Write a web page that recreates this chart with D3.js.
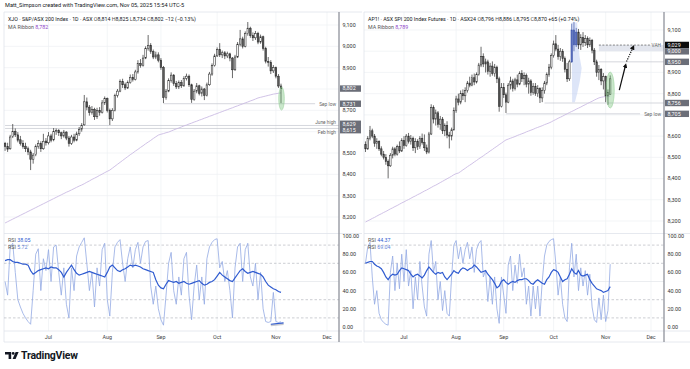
<!DOCTYPE html>
<html>
<head>
<meta charset="utf-8">
<script src="https://cdn.jsdelivr.net/npm/d3@7"></script>
<style>
  body { margin: 0; background: #fff; }
  svg { display: block; font-family: Roboto, "Noto Sans", sans-serif; }
</style>
</head>
<body>
<div id="chart"></div>
<script>
// ---- data -------------------------------------------------------------
// trading days Jun 6 2025 .. Dec 31 2025 (weekdays), candles cover the first 109
const tradingDays = d3.timeDay.range(new Date(2025, 5, 6), new Date(2026, 0, 1))
  .filter(d => d.getDay() % 6 !== 0);
const monthLabels = ['Jul', 'Aug', 'Sep', 'Oct', 'Nov', 'Dec'];
const priceTicks = d3.range(8200, 9101, 100);
const rsiTicks = [0, 20, 40, 60, 80, 100];
const rsiDashed = [90, 70, 30, 10];

// XJO daily [open, high, low, close]
const xjoOHLC = [
  [8545,8552,8510,8530],[8530,8548,8505,8518],[8520,8585,8515,8575],[8578,8636,8570,8600],[8602,8615,8575,8585],
  [8585,8598,8550,8560],[8562,8580,8535,8545],[8545,8560,8520,8530],[8532,8548,8505,8520],[8520,8530,8490,8505],
  [8505,8515,8420,8470],[8470,8500,8450,8490],[8492,8540,8485,8530],[8530,8560,8520,8545],[8545,8555,8505,8520],
  [8520,8590,8515,8555],[8556,8570,8535,8548],[8548,8598,8540,8580],[8580,8590,8550,8560],[8562,8617,8555,8600],
  [8600,8615,8585,8605],[8605,8612,8580,8595],[8595,8600,8565,8580],[8580,8608,8572,8598],[8598,8602,8560,8570],
  [8570,8580,8530,8545],[8545,8585,8538,8575],[8575,8590,8550,8560],[8560,8600,8555,8590],[8590,8622,8580,8610],
  [8612,8640,8600,8630],[8632,8772,8628,8740],[8740,8760,8700,8715],[8715,8725,8675,8690],[8690,8720,8680,8705],
  [8705,8712,8655,8670],[8670,8712,8660,8700],[8700,8715,8675,8690],[8690,8748,8685,8735],[8735,8765,8725,8755],
  [8755,8760,8690,8700],[8700,8708,8631,8660],[8660,8710,8650,8700],[8700,8778,8695,8770],[8770,8800,8760,8790],
  [8790,8845,8785,8835],[8835,8848,8805,8820],[8820,8830,8795,8805],[8805,8840,8800,8830],[8830,8868,8825,8855],
  [8855,8870,8835,8845],[8845,8890,8840,8880],[8880,8935,8872,8920],[8920,8940,8900,8910],[8910,8960,8905,8945],
  [8945,9000,8940,8990],[8990,9053,8980,9005],[9005,9015,8965,8975],[8975,8985,8940,8950],[8950,8975,8940,8960],
  [8960,8972,8925,8935],[8935,8945,8890,8900],[8900,8908,8734,8760],[8760,8800,8750,8790],[8790,8850,8785,8840],
  [8840,8878,8830,8865],[8865,8870,8815,8825],[8825,8838,8800,8810],[8810,8840,8800,8830],[8830,8842,8805,8815],
  [8815,8860,8810,8850],[8850,8872,8840,8860],[8860,8868,8810,8820],[8820,8825,8735,8750],[8750,8800,8745,8790],
  [8790,8828,8780,8815],[8815,8820,8770,8780],[8780,8812,8765,8800],[8800,8805,8748,8770],[8770,8830,8765,8820],
  [8820,8880,8815,8870],[8870,8920,8862,8910],[8910,8965,8905,8955],[8955,8995,8950,8985],[8985,9015,8950,8960],
  [8960,8980,8945,8970],[8970,8978,8940,8955],[8955,8975,8945,8965],[8965,8970,8930,8945],[8945,8950,8851,8890],
  [8890,8960,8885,8950],[8950,9020,8945,9010],[9010,9077,9000,9035],[9035,9045,8990,9000],[9000,9070,8995,9060],
  [9060,9114,9050,9085],[9085,9092,9040,9050],[9050,9065,9025,9040],[9040,9072,9030,9060],[9060,9068,9010,9020],
  [9020,9055,9012,9045],[9045,9050,8980,8990],[8990,8998,8920,8930],[8930,8950,8905,8925],[8925,8935,8870,8885],
  [8885,8912,8875,8900],[8900,8905,8850,8860],[8860,8870,8805,8814],[8814,8825,8734,8802]
];

// AP1! daily [open, high, low, close]
const ap1OHLC = [
  [8560,8575,8525,8540],[8540,8600,8535,8590],[8590,8648,8580,8625],[8625,8635,8590,8600],[8600,8610,8550,8565],
  [8565,8590,8540,8575],[8575,8580,8530,8540],[8540,8552,8505,8515],[8515,8530,8490,8500],[8500,8515,8465,8480],
  [8480,8490,8401,8460],[8460,8520,8455,8510],[8510,8550,8495,8540],[8540,8548,8505,8515],[8515,8560,8508,8550],
  [8550,8575,8520,8530],[8530,8590,8525,8580],[8580,8600,8540,8555],[8555,8610,8550,8600],[8600,8615,8565,8575],
  [8575,8605,8560,8590],[8590,8598,8530,8545],[8545,8590,8520,8575],[8575,8585,8535,8550],[8550,8600,8540,8590],
  [8590,8612,8560,8570],[8570,8608,8530,8545],[8545,8560,8515,8525],[8525,8620,8518,8610],[8610,8750,8605,8735],
  [8735,8745,8660,8680],[8680,8725,8650,8710],[8710,8718,8640,8655],[8655,8695,8630,8680],[8680,8690,8610,8625],
  [8625,8660,8600,8650],[8650,8670,8590,8605],[8605,8620,8542,8600],[8600,8640,8580,8630],[8630,8735,8625,8720],
  [8720,8790,8710,8775],[8775,8800,8745,8760],[8760,8815,8750,8800],[8800,8820,8770,8790],[8790,8830,8760,8815],
  [8815,8860,8805,8850],[8850,8880,8830,8840],[8840,8890,8835,8875],[8875,8895,8840,8855],[8855,8900,8848,8890],
  [8890,8945,8885,8935],[8935,9021,8925,8975],[8975,8990,8925,8940],[8940,8965,8900,8950],[8950,8960,8890,8905],
  [8905,8945,8880,8930],[8930,8952,8885,8895],[8895,8940,8880,8925],[8925,8932,8850,8870],[8870,8880,8715,8740],
  [8740,8850,8735,8830],[8830,8850,8780,8795],[8795,8805,8709,8760],[8760,8850,8755,8840],[8840,8880,8820,8860],
  [8860,8870,8810,8825],[8825,8875,8815,8865],[8865,8890,8830,8845],[8845,8905,8840,8895],[8895,8911,8855,8870],
  [8870,8900,8840,8885],[8885,8895,8830,8845],[8845,8875,8800,8860],[8860,8868,8790,8805],[8805,8850,8795,8835],
  [8835,8850,8790,8800],[8800,8840,8785,8825],[8825,8830,8756,8780],[8780,8830,8760,8815],[8815,8860,8800,8850],
  [8850,8900,8840,8890],[8890,8940,8880,8925],[8925,8990,8915,8980],[8980,9050,8970,9035],[9035,9076,9000,9010],
  [9010,9030,8960,8975],[8975,9015,8955,9000],[9000,9010,8950,8965],[8965,8975,8900,8915],[8915,8945,8855,8870],
  [8870,8960,8860,8950],[8950,9130,8945,9100],[9100,9138,9000,9030],[9030,9110,9020,9090],[9090,9105,9010,9030],
  [9030,9080,9006,9065],[9065,9090,9020,9040],[9040,9076,9025,9060],[9060,9070,9015,9030],[9030,9065,9020,9050],
  [9050,9058,8990,9005],[9005,9015,8935,8950],[8950,8960,8880,8900],[8900,8935,8864,8915],[8915,8920,8840,8860],
  [8860,8897,8820,8880],[8880,8885,8760,8790],[8790,8820,8747,8805],[8796,8886,8795,8870]
];

const xjoMA = [
  8172,8178,8184,8190,8196,8202,8208,8214,8220,8226,8232,8238,8244,8250,8256,8262,8268,8274,8280,8286,
  8292,8298,8304,8310,8316,8321,8327,8333,8339,8345,8350,8356,8363,8369,8376,8382,8388,8395,8401,8408,
  8414,8420,8429,8438,8447,8456,8465,8474,8483,8492,8500,8509,8517,8526,8534,8543,8551,8559,8568,8576,
  8584,8588,8591,8595,8598,8603,8608,8613,8617,8622,8627,8631,8636,8640,8645,8649,8654,8658,8663,8667,
  8672,8676,8681,8685,8690,8694,8699,8703,8708,8712,8717,8721,8726,8730,8735,8739,8744,8748,8753,8758,
  8761,8764,8767,8770,8773,8776,8778,8780,8782
];
const ap1MA = [
  8195,8201,8206,8212,8217,8223,8229,8234,8240,8245,8251,8257,8262,8268,8273,8279,8285,8290,8296,8301,
  8307,8313,8318,8324,8329,8335,8341,8346,8352,8358,8364,8369,8375,8381,8387,8393,8399,8405,8411,8418,
  8423,8426,8433,8441,8448,8456,8463,8470,8478,8485,8493,8500,8507,8515,8522,8530,8537,8545,8552,8560,
  8567,8575,8582,8586,8590,8594,8598,8603,8607,8611,8615,8620,8624,8628,8632,8637,8641,8645,8649,8654,
  8658,8662,8667,8673,8678,8684,8689,8694,8700,8705,8711,8716,8721,8727,8732,8737,8743,8748,8754,8759,
  8764,8770,8775,8780,8783,8785,8787,8788,8789
];

const xjoRsiSlow = [
  73,74,74,72,71,71,70,69,69,68,62,58,60,62,63,64,65,64,66,65,
  65,63,60,55,60,64,68,63,59,57,58,59,60,61,60,59,58,57,56,55,
  60,66,68,65,62,61,63,64,66,68,67,68,67,66,64,63,62,61,60,52,
  46,43,42,47,51,50,49,50,48,49,50,48,47,48,49,50,51,48,46,47,
  49,50,52,56,60,57,55,53,51,50,54,58,62,64,61,59,60,61,60,59,
  58,55,50,46,44,42,41,39,38.05
];
const xjoRsiFast = [
  50,35,88,92,60,30,22,15,10,6, 3,40,80,86,40,75,62,85,50,88,
  90,60,35,65,25,10,65,40,78,88, 93,98,70,40,60,22,65,45,85,92,
  30,12,60,88,93,96,70,50,75,88, 65,85,93,70,88,94,95,45,25,45,
  20,8,2,35,70,82,40,25,55,35, 75,82,35,8,45,68,30,55,25,75,
  88,93,96,97,65,72,50,62,40,10, 65,88,92,50,85,92,55,45,70,30,
  60,20,6,5,6,38,6,5,5.72
];
const ap1RsiSlow = [
  70,71,72,72,69,67,66,64,60,55,52,56,58,57,58,62,65,64,63,62,
  58,55,57,58,56,54,57,62,66,63,60,58,60,59,60,55,52,55,58,62,
  60,59,63,65,64,62,64,65,68,66,63,60,61,62,58,55,52,48,43,45,
  50,52,49,47,49,50,49,51,52,52,53,53,51,48,47,50,52,50,48,47,
  52,55,60,63,62,60,55,50,52,53,58,64,60,58,62,57,56,57,58,52,
  48,45,42,41,40,38,39,40,44.37
];
const ap1RsiFast = [
  70,88,93,55,25,40,15,8,5,3, 2,60,78,40,70,42,80,50,85,45,
  62,20,55,30,72,45,22,12,80,95, 60,72,30,50,18,40,15,12,55,90,
  95,75,88,70,85,93,75,88,60,85, 92,95,55,62,28,55,25,55,20,4,
  55,35,15,68,78,40,68,48,80,55, 65,25,45,12,45,20,45,12,50,78,
  90,94,96,97,70,35,55,25,10,6, 65,92,55,80,40,65,45,62,35,58,
  22,8,5,32,8,35,6,18,69.04
];

// annotations (bar index / price); labelPos: where the label sits against its line
const xjoLevels = [
  {price: 8731, from: 62, label: 'Sep low', labelPos: 'inline', box: '8,731'},
  {price: 8629, from: 0, label: 'June high', labelPos: 'above', box: '8,629'},
  {price: 8615, from: 0, label: 'Feb high', labelPos: 'below', box: '8,615'}
];
const ap1Levels = [
  {price: 8705, from: 62, label: 'Sep low', labelPos: 'inline', box: '8,705'},
  {price: 8756, from: 79, label: '', box: '8,756'},
  {price: 8950, from: 103, label: '', box: '8,950'},
  {price: 9000, from: 103, label: '', box: '9,000', hidden: true},
  {price: 9029, from: 103, label: 'VAH', labelPos: 'inline', box: '9,029', dashed: true, dark: true}
];
const ap1Zone = {from: 103, top: 9029, bottom: 9000};
const ap1Profile = [[91,9135],[93.4,9135],[93.8,9060],[94.4,8980],[95.4,8920],[94.6,8860],[93.4,8800],[92.4,8760],[91.2,8760]];
const ap1BlueBars = [91, 92, 93];
const ap1Arrows = [
  {from: [112, 8817], to: [114.8, 8935], dashed: false},
  {from: [115.2, 8951], to: [118.2, 9021], dashed: true}
];

// ---- layout -------------------------------------------------------------
const W = 690, H = 369;
const TOP = 12, PRICE_BOTTOM = 233, RSI_BOTTOM = 331;
const FS = 5.4;

const svg = d3.select('#chart').append('svg')
  .attr('width', W).attr('height', H);

svg.append('defs').append('marker')
  .attr('id', 'arrowhead')
  .attr('viewBox', '0 0 10 10').attr('refX', 6).attr('refY', 5)
  .attr('markerWidth', 4).attr('markerHeight', 4)
  .attr('orient', 'auto')
  .append('path').attr('d', 'M0,0 L10,5 L0,10 z').attr('fill', '#111');

svg.append('text')
  .attr('x', 5).attr('y', 6.5)
  .attr('font-size', 5.6).attr('fill', '#131722')
  .text('Matt_Simpson created with TradingView.com, Nov 05, 2025 15:54 UTC-5');

const monthStarts = monthLabels.map((m, k) => tradingDays.findIndex(d => d.getMonth() === 6 + k));

function drawPane(p) {
  const x = d3.scaleLinear().domain([17, 126]).range(p.xRange);
  const y = d3.scaleLinear().domain([8200, 9100]).range(p.yRange);
  const r = d3.scaleLinear().domain([0, 100]).range([327, 236]);
  const step = x(1) - x(0);
  const bw = step * 0.62;

  svg.append('clipPath').attr('id', 'clip-' + p.id)
    .append('rect').attr('x', p.x0).attr('y', TOP)
    .attr('width', p.x1 - p.x0).attr('height', PRICE_BOTTOM - TOP);
  svg.append('clipPath').attr('id', 'rclip-' + p.id)
    .append('rect').attr('x', p.x0).attr('y', PRICE_BOTTOM)
    .attr('width', p.x1 - p.x0).attr('height', RSI_BOTTOM - PRICE_BOTTOM);

  // grid
  const grid = svg.append('g').attr('stroke', '#eef0f4').attr('stroke-width', 0.7);
  monthStarts.forEach(i => {
    grid.append('line').attr('x1', x(i)).attr('x2', x(i)).attr('y1', TOP).attr('y2', RSI_BOTTOM);
  });
  priceTicks.forEach(t => {
    grid.append('line').attr('x1', p.x0).attr('x2', p.x1).attr('y1', y(t)).attr('y2', y(t));
  });

  // frames
  const frame = svg.append('g').attr('stroke', '#e0e3eb').attr('stroke-width', 0.8).attr('fill', 'none');
  frame.append('line').attr('x1', p.x0).attr('x2', p.axisX1).attr('y1', TOP).attr('y2', TOP);
  frame.append('line').attr('x1', p.x0).attr('x2', p.x0).attr('y1', TOP).attr('y2', 342);
  frame.append('line').attr('x1', p.x0).attr('x2', p.axisX1).attr('y1', PRICE_BOTTOM + 0.5).attr('y2', PRICE_BOTTOM + 0.5);
  frame.append('line').attr('x1', p.x0).attr('x2', p.axisX1).attr('y1', RSI_BOTTOM).attr('y2', RSI_BOTTOM);
  frame.append('line').attr('x1', p.x0).attr('x2', p.axisX1).attr('y1', 342).attr('y2', 342);

  const pg = svg.append('g').attr('clip-path', `url(#clip-${p.id})`);

  // horizontal levels
  if (p.zone) {
    pg.append('rect')
      .attr('x', x(p.zone.from)).attr('y', y(p.zone.top))
      .attr('width', p.x1 - x(p.zone.from)).attr('height', y(p.zone.bottom) - y(p.zone.top))
      .attr('fill', '#e3e6ee');
  }
  p.levels.filter(l => !l.hidden).forEach(l => {
    const inline = l.labelPos === 'inline';
    const endX = inline ? p.x1 - 5 - l.label.length * 2.7 : p.x1;
    pg.append('line')
      .attr('x1', x(l.from)).attr('x2', endX)
      .attr('y1', y(l.price)).attr('y2', y(l.price))
      .attr('stroke', l.dashed ? '#555' : '#c3c6ce')
      .attr('stroke-width', 0.7)
      .attr('stroke-dasharray', l.dashed ? '2,1.5' : null);
    if (l.label) {
      const dy = l.labelPos === 'above' ? -1.3 : (l.labelPos === 'below' ? 5.2 : 1.8);
      pg.append('text')
        .attr('x', p.x1 - 3).attr('y', y(l.price) + dy)
        .attr('text-anchor', 'end').attr('font-size', 4.8)
        .attr('fill', '#666').text(l.label);
    }
  });

  // profile shape
  if (p.profile) {
    pg.append('path')
      .attr('d', d3.line().x(d => x(d[0])).y(d => y(d[1]))(p.profile) + 'Z')
      .attr('fill', '#bccbf2').attr('opacity', 0.5);
  }

  // MA ribbon
  pg.append('path')
    .attr('d', d3.line().x((d, i) => x(i)).y(d => y(d))(p.ma))
    .attr('fill', 'none').attr('stroke', '#cbbbe3').attr('stroke-width', 0.9);

  // candles
  const isBlue = i => p.blue && p.blue.includes(i);
  const candles = pg.append('g').selectAll('g').data(p.ohlc).join('g');
  candles.append('line')
    .attr('x1', (d, i) => x(i)).attr('x2', (d, i) => x(i))
    .attr('y1', d => y(d[1])).attr('y2', d => y(d[2]))
    .attr('stroke', (d, i) => isBlue(i) ? '#3f56a8' : '#2b2b2b')
    .attr('stroke-width', 0.7);
  candles.append('rect')
    .attr('x', (d, i) => x(i) - bw / 2).attr('width', bw)
    .attr('y', d => y(Math.max(d[0], d[3])))
    .attr('height', d => Math.max(0.7, Math.abs(y(d[0]) - y(d[3]))))
    .attr('fill', (d, i) => isBlue(i) ? '#5a6fc0' : (d[3] >= d[0] ? '#ffffff' : '#5a5a5a'))
    .attr('stroke', (d, i) => isBlue(i) ? '#3f56a8' : '#2b2b2b')
    .attr('stroke-width', 0.55);

  // highlight ellipse
  pg.append('ellipse')
    .attr('cx', x(p.ellipse.i)).attr('cy', y(p.ellipse.price))
    .attr('rx', p.ellipse.rx * step)
    .attr('ry', y(p.ellipse.price - p.ellipse.ry) - y(p.ellipse.price))
    .attr('fill', 'rgba(102,187,106,0.35)').attr('stroke', '#9ed4a0').attr('stroke-width', 0.6);

  // arrows
  (p.arrows || []).forEach(a => {
    pg.append('line')
      .attr('x1', x(a.from[0])).attr('y1', y(a.from[1]))
      .attr('x2', x(a.to[0])).attr('y2', y(a.to[1]))
      .attr('stroke', '#111').attr('stroke-width', 1.2)
      .attr('stroke-dasharray', a.dashed ? '1.2,1.2' : null)
      .attr('marker-end', 'url(#arrowhead)');
  });

  // RSI pane
  const rg = svg.append('g').attr('clip-path', `url(#rclip-${p.id})`);
  rg.append('line').attr('x1', p.x0).attr('x2', p.x1).attr('y1', r(50)).attr('y2', r(50))
    .attr('stroke', '#e3e5ea').attr('stroke-width', 0.7);
  rsiDashed.forEach(v => {
    rg.append('line').attr('x1', p.x0).attr('x2', p.x1).attr('y1', r(v)).attr('y2', r(v))
      .attr('stroke', '#a9acb6').attr('stroke-width', 0.6).attr('stroke-dasharray', '2.5,2');
  });
  rg.append('path')
    .attr('d', d3.line().x((d, i) => x(i)).y(d => r(d))(p.rsiFast))
    .attr('fill', 'none').attr('stroke', '#93a9e3').attr('stroke-width', 0.8);
  rg.append('path')
    .attr('d', d3.line().x((d, i) => x(i)).y(d => r(d))(p.rsiSlow))
    .attr('fill', 'none').attr('stroke', '#2f5bd0').attr('stroke-width', 1.2);
  if (p.rsiMarker) {
    rg.append('line')
      .attr('x1', x(p.rsiMarker[0][0])).attr('y1', r(p.rsiMarker[0][1]) + 1)
      .attr('x2', x(p.rsiMarker[1][0])).attr('y2', r(p.rsiMarker[1][1]) + 1)
      .attr('stroke', '#c9cbd1').attr('stroke-width', 2.2);
    rg.append('line')
      .attr('x1', x(p.rsiMarker[0][0])).attr('y1', r(p.rsiMarker[0][1]))
      .attr('x2', x(p.rsiMarker[1][0])).attr('y2', r(p.rsiMarker[1][1]))
      .attr('stroke', '#2f5bd0').attr('stroke-width', 1.2);
  }

  // price axis
  const ax = svg.append('g');
  ax.append('line').attr('x1', p.x1).attr('x2', p.x1).attr('y1', TOP).attr('y2', 342)
    .attr('stroke', '#8f929b').attr('stroke-width', 1.3);
  const boxes = p.levels.map(l => ({...l, cy: y(l.price)}));
  if (p.lastBox) boxes.push({box: p.lastBox, cy: y(p.lastPrice)});
  boxes.sort((a, b) => a.cy - b.cy);
  for (let k = 1; k < boxes.length; k++) {
    if (boxes[k].cy - boxes[k - 1].cy < 6.4) {
      const mid = (boxes[k].cy + boxes[k - 1].cy) / 2;
      boxes[k - 1].cy = mid - 3.2;
      boxes[k].cy = mid + 3.2;
    }
  }
  priceTicks.forEach(t => {
    if (boxes.some(b => Math.abs(b.cy - y(t)) < 6)) return;
    ax.append('text').attr('x', p.x1 + 3.5).attr('y', y(t) + 1.9)
      .attr('font-size', FS).attr('fill', '#333').text(d3.format(',')(t));
  });
  boxes.forEach(b => {
    ax.append('rect').attr('x', p.x1 + 1).attr('y', b.cy - 3.2)
      .attr('width', p.boxW).attr('height', 6.4)
      .attr('fill', b.dark ? '#0b0b0b' : '#6b6e78');
    ax.append('text').attr('x', p.x1 + 3.5).attr('y', b.cy + 1.9)
      .attr('font-size', FS).attr('fill', '#fff').text(b.box);
  });
  rsiTicks.forEach(t => {
    ax.append('text').attr('x', p.x1 + 3.5).attr('y', r(t) + 1.9)
      .attr('font-size', FS).attr('fill', '#333').text(d3.format('.2f')(t));
  });

  // time axis
  monthStarts.forEach((i, k) => {
    svg.append('text').attr('x', x(i)).attr('y', 339)
      .attr('text-anchor', 'middle').attr('font-size', FS).attr('fill', '#444')
      .text(monthLabels[k]);
  });

  // legends
  const hdr = svg.append('text').attr('x', p.x0 + 4).attr('y', 21).attr('font-size', 5.3).attr('fill', '#131722');
  hdr.append('tspan').text(p.title + '  ');
  p.ohlcText.forEach(([k, v]) => {
    hdr.append('tspan').attr('fill', '#555').text(k);
    hdr.append('tspan').attr('fill', '#131722').text(v + '  ');
  });
  hdr.append('tspan').attr('fill', '#131722').text(p.change);

  const ma = svg.append('text').attr('x', p.x0 + 4).attr('y', 28.5).attr('font-size', 5.3).attr('fill', '#555');
  ma.append('tspan').text('MA Ribbon  ');
  ma.append('tspan').attr('fill', '#8e44c9').text(p.maText);

  const r1 = svg.append('text').attr('x', p.x0 + 4).attr('y', 242).attr('font-size', 5.3).attr('fill', '#555');
  r1.append('tspan').text('RSI  ');
  r1.append('tspan').attr('fill', '#2f5bd0').text(d3.format('.2f')(p.rsiSlow[p.rsiSlow.length - 1]));
  const r2 = svg.append('text').attr('x', p.x0 + 4).attr('y', 248.5).attr('font-size', 5.3).attr('fill', '#555');
  r2.append('tspan').text('RSI  ');
  r2.append('tspan').attr('fill', '#5f7fd6').text(d3.format('.2f')(p.rsiFast[p.rsiFast.length - 1]));
}

drawPane({
  id: 'xjo', x0: 4, x1: 339, axisX1: 362, boxW: 21,
  xRange: [48.5, 327], yRange: [217, 25],
  ohlc: xjoOHLC, ma: xjoMA, rsiSlow: xjoRsiSlow, rsiFast: xjoRsiFast,
  levels: xjoLevels, lastBox: '8,802', lastPrice: 8802,
  ellipse: {i: 108.2, price: 8755, rx: 1.1, ry: 54},
  rsiMarker: [[104, 3], [109, 4.5]],
  title: 'XJO · S&P/ASX 200 Index · 1D · ASX',
  ohlcText: [['O', '8,814'], ['H', '8,825'], ['L', '8,734'], ['C', '8,802']],
  change: '−12 (−0.13%)', maText: '8,782'
});

drawPane({
  id: 'ap1', x0: 364, x1: 664, axisX1: 690, boxW: 24,
  xRange: [404, 651], yRange: [221, 30],
  ohlc: ap1OHLC, ma: ap1MA, rsiSlow: ap1RsiSlow, rsiFast: ap1RsiFast,
  levels: ap1Levels, lastBox: null, lastPrice: null,
  zone: ap1Zone, profile: ap1Profile, blue: ap1BlueBars, arrows: ap1Arrows,
  ellipse: {i: 108, price: 8817, rx: 1.8, ry: 85},
  title: 'AP1! · ASX SPI 200 Index Futures · 1D · ASX24',
  ohlcText: [['O', '8,796'], ['H', '8,886'], ['L', '8,795'], ['C', '8,870']],
  change: '+65 (+0.74%)', maText: '8,789'
});

// TradingView logo
const logo = svg.append('g').attr('fill', '#131722');
logo.append('path').attr('d', 'M5,352 H11.2 V359 H8.6 V354.6 H5 Z');
logo.append('circle').attr('cx', 13.2).attr('cy', 353.4).attr('r', 1.4);
logo.append('path').attr('d', 'M15.6,352 H18.6 L15.6,359 H12.6 Z');
svg.append('text').attr('x', 21).attr('y', 359.2)
  .attr('font-size', 10.5).attr('font-weight', 700).attr('fill', '#131722')
  .attr('letter-spacing', -0.2).text('TradingView');
</script>
</body>
</html>
